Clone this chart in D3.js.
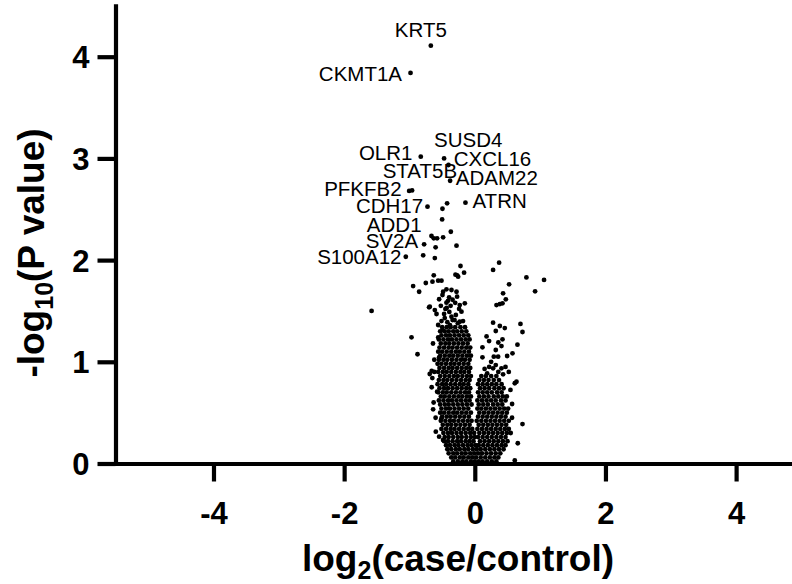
<!DOCTYPE html>
<html>
<head>
<meta charset="utf-8">
<script src="https://cdn.jsdelivr.net/npm/d3@7"></script>
<style>
  html, body { margin: 0; padding: 0; background: #fff; }
  svg { display: block; font-family: "Liberation Sans", Arial, Helvetica, sans-serif; }
</style>
</head>
<body>
<svg id="chart" width="792" height="584"></svg>
<script>
// Axis ticks
const xTicks = [-4, -2, 0, 2, 4];
const yTicks = [0, 1, 2, 3, 4];

// Named proteins: [gene, log2(case/control), -log10(P)]
const labelled = [
  ["KRT5",    -0.673, 4.108],
  ["CKMT1A",  -0.984, 3.840],
  ["OLR1",    -0.827, 3.017],
  ["SUSD4",   -0.470, 3.000],
  ["CXCL16",  -0.403, 2.935],
  ["STAT5B",  -0.960, 2.685],
  ["ADAM22",  -0.378, 2.780],
  ["PFKFB2",  -1.005, 2.680],
  ["CDH17",   -0.724, 2.525],
  ["ATRN",    -0.143, 2.565],
  ["ADD1",    -0.500, 2.400],
  ["SV2A",    -0.776, 2.155],
  ["S100A12", -1.056, 2.033]
];

// Label placement relative to each named point (px): dx, dy, anchor
const labelOffsets = {
  KRT5:    [-10, -9, "middle"],
  CKMT1A:  [-8.5, 7.7, "end"],
  OLR1:    [-8.3, 3.3, "end"],
  SUSD4:   [-10, -11, "start"],
  CXCL16:  [5.3, 1, "start"],
  STAT5B:  [45, -12.5, "end"],
  ADAM22:  [5.7, 4.3, "start"],
  PFKFB2:  [-7.5, 5.3, "end"],
  CDH17:   [-4.4, 6, "end"],
  ATRN:    [7, 5.6, "start"],
  ADD1:    [-20.6, 12.4, "end"],
  SV2A:    [-6, 4, "end"],
  S100A12: [-4.3, 7.3, "end"]
};

// Scattered proteins outside the dense core: [log2FC, -log10P]
const scattered = [
  [-0.495,2.505],[-0.424,2.558],[-0.663,2.237],[-0.628,2.214],[-0.577,2.214],[-0.485,2.224],[-0.367,2.279],
  [-0.600,2.126],[-0.280,2.142],[-0.790,2.047],[-0.612,2.020],[-0.219,1.942],[0.372,1.975],[0.280,1.903],
  [-0.628,1.850],[-0.296,1.857],[-0.255,1.837],[-0.164,1.876],[0.790,1.830],[1.060,1.805],[0.923,1.693],
  [0.525,1.762],[-1.580,1.500],[-0.944,1.745],[-0.852,1.689],[-0.750,1.775],[-0.648,1.788],[-0.561,1.798],
  [-0.510,1.798],[-0.270,1.850],[0.433,1.673],[0.475,1.614],[0.332,1.558],[0.383,1.568],[0.424,1.575],
  [-0.700,1.536],[-0.612,1.509],[-0.969,1.241],[-0.877,1.074],[-0.638,0.533],[0.730,0.388],[0.658,0.199],
  [0.612,0.030],[0.699,1.372],[0.730,1.293],[0.653,1.168],[0.280,1.385],[0.383,1.352],[0.459,1.332],
  [0.321,1.303],[0.219,1.204],[0.117,1.142],[0.424,1.221],[0.408,1.155],[0.321,1.116],[0.577,1.083],
  [0.495,1.057],[0.291,1.050],[0.357,1.050],[0.117,1.044],[0.321,0.968],[0.408,0.936],[0.280,0.936],
  [0.189,0.887],[0.433,0.877],[0.638,0.804],[0.612,0.789],[0.546,0.723],[0.571,0.585],
  [-0.485,1.689],[-0.495,1.657],[-0.434,1.713],[-0.357,1.706],[-0.280,1.689],[-0.271,1.640],[-0.393,1.634],
  [-0.546,1.615],[-0.434,1.581],[-0.230,1.558],[-0.153,1.575],[-0.689,1.542],[-0.586,1.470],[-0.357,1.443],
  [-0.204,1.493],[-0.561,1.362],[-0.230,1.394],[-0.430,1.530],[-0.340,1.610],[-0.520,1.550],[-0.310,1.410],
  [-0.460,1.430],[-0.490,1.310],[-0.380,1.360],[-0.597,0.313],[-0.510,0.444],[-0.546,0.264],[-0.485,0.231],
  [-0.690,0.880],[-0.650,0.840],[-0.620,0.900],[-0.660,0.910],[-0.560,1.240],[-0.546,1.044],[-0.577,0.706],
  [-0.640,1.180],[-0.620,1.020],[-0.660,0.750],[-0.630,0.600],[-0.600,0.450],[0.550,0.300],[0.570,0.450],
  [0.360,1.190],[0.250,1.000],[0.470,0.950],[0.180,1.250],[0.520,0.900],
  [-0.47,1.47],[-0.39,1.49],[-0.29,1.46],[-0.51,1.40],[-0.42,1.39],[-0.34,1.41],[-0.26,1.38],[-0.18,1.40],
  [-0.45,1.52],[-0.37,1.55],[-0.24,1.52],[-0.41,1.60],[-0.30,1.58],[0.15,0.93],[0.36,0.90],[0.22,0.95]
];

// Dense core, left arm (down-regulated): rows of [-log10P, log2FC values]
const coreLeft = [
  [1.34, [-0.50,-0.43,-0.37,-0.30,-0.22,-0.15]],
  [1.30, [-0.53,-0.46,-0.40,-0.33,-0.27,-0.20,-0.13]],
  [1.26, [-0.51,-0.44,-0.38,-0.31,-0.24,-0.17,-0.10]],
  [1.22, [-0.55,-0.48,-0.41,-0.35,-0.28,-0.21,-0.14,-0.08]],
  [1.18, [-0.52,-0.45,-0.39,-0.32,-0.25,-0.18,-0.11]],
  [1.14, [-0.54,-0.47,-0.40,-0.34,-0.27,-0.20,-0.13,-0.07]],
  [1.10, [-0.56,-0.50,-0.43,-0.36,-0.29,-0.23,-0.16,-0.09]],
  [1.06, [-0.53,-0.46,-0.39,-0.33,-0.26,-0.19,-0.12,-0.06]],
  [1.02, [-0.55,-0.48,-0.42,-0.35,-0.28,-0.21,-0.15,-0.08]],
  [0.98, [-0.57,-0.51,-0.44,-0.37,-0.31,-0.24,-0.17,-0.10]],
  [0.94, [-0.54,-0.47,-0.40,-0.34,-0.27,-0.20,-0.13,-0.07]],
  [0.90, [-0.56,-0.49,-0.43,-0.36,-0.29,-0.22,-0.16,-0.09]],
  [0.86, [-0.53,-0.46,-0.39,-0.32,-0.26,-0.19,-0.12,-0.06]],
  [0.82, [-0.55,-0.48,-0.42,-0.35,-0.28,-0.21,-0.14,-0.08]],
  [0.78, [-0.57,-0.50,-0.44,-0.37,-0.30,-0.23,-0.17,-0.10]],
  [0.74, [-0.54,-0.47,-0.41,-0.34,-0.27,-0.20,-0.13,-0.07]],
  [0.70, [-0.56,-0.49,-0.43,-0.36,-0.29,-0.22,-0.15,-0.09]],
  [0.66, [-0.52,-0.46,-0.39,-0.32,-0.25,-0.19,-0.12,-0.06]],
  [0.62, [-0.55,-0.48,-0.41,-0.35,-0.28,-0.21,-0.14,-0.08]],
  [0.58, [-0.53,-0.46,-0.40,-0.33,-0.26,-0.19,-0.12,-0.05]],
  [0.54, [-0.51,-0.44,-0.38,-0.31,-0.24,-0.17,-0.10]],
  [0.50, [-0.53,-0.47,-0.40,-0.33,-0.27,-0.20,-0.13,-0.06]],
  [0.46, [-0.50,-0.43,-0.37,-0.30,-0.23,-0.16,-0.09]],
  [0.42, [-0.52,-0.45,-0.38,-0.32,-0.25,-0.18,-0.11,-0.05]],
  [0.38, [-0.49,-0.42,-0.36,-0.29,-0.22,-0.15,-0.08]],
  [0.34, [-0.51,-0.44,-0.37,-0.31,-0.24,-0.17,-0.10,-0.04]],
  [0.30, [-0.48,-0.41,-0.35,-0.28,-0.21,-0.14,-0.07,-0.01]],
  [0.26, [-0.46,-0.40,-0.33,-0.26,-0.20,-0.13,-0.06,0.00]],
  [0.22, [-0.47,-0.41,-0.34,-0.27,-0.21,-0.14,-0.08,-0.02]],
  [0.18, [-0.44,-0.38,-0.31,-0.25,-0.18,-0.11,-0.05,0.01]],
  [0.14, [-0.42,-0.36,-0.29,-0.23,-0.16,-0.10,-0.03,0.03]],
  [0.10, [-0.40,-0.33,-0.27,-0.20,-0.14,-0.07,-0.01,0.05]],
  [0.06, [-0.36,-0.30,-0.23,-0.17,-0.10,-0.04,0.02]],
  [0.02, [-0.33,-0.26,-0.19,-0.13,-0.06,0.00,0.06]]
];

// Dense core, right arm (up-regulated)
const coreRight = [
  [0.86, [0.10,0.17,0.25,0.33]],
  [0.82, [0.07,0.14,0.21,0.29,0.37]],
  [0.78, [0.05,0.12,0.19,0.26,0.33,0.41]],
  [0.74, [0.08,0.15,0.22,0.30,0.37,0.44]],
  [0.70, [0.05,0.12,0.19,0.26,0.34,0.41]],
  [0.66, [0.07,0.14,0.21,0.29,0.36,0.43,0.49]],
  [0.62, [0.04,0.11,0.18,0.25,0.32,0.40,0.47]],
  [0.58, [0.06,0.13,0.20,0.28,0.35,0.42]],
  [0.54, [0.04,0.10,0.17,0.24,0.31,0.38,0.45,0.51]],
  [0.50, [0.07,0.14,0.21,0.28,0.35,0.42,0.49]],
  [0.46, [0.05,0.12,0.19,0.26,0.33,0.40,0.47]],
  [0.42, [0.03,0.10,0.17,0.24,0.31,0.38,0.45,0.52]],
  [0.38, [0.06,0.13,0.20,0.27,0.34,0.41,0.48]],
  [0.34, [0.04,0.11,0.18,0.25,0.32,0.39,0.46,0.52]],
  [0.30, [0.07,0.14,0.21,0.28,0.35,0.42,0.49]],
  [0.26, [0.05,0.12,0.19,0.26,0.33,0.40,0.47]],
  [0.22, [0.08,0.15,0.22,0.29,0.36,0.43,0.50]],
  [0.18, [0.06,0.13,0.20,0.27,0.34,0.41,0.47]],
  [0.14, [0.09,0.16,0.23,0.30,0.37,0.44]],
  [0.10, [0.11,0.18,0.25,0.32,0.39]],
  [0.06, [0.09,0.16,0.23,0.30,0.36]],
  [0.02, [0.12,0.19,0.26,0.33]]
];

// Flatten everything into one point list
const points = [];
for (const [p, xs] of coreLeft.concat(coreRight)) for (const fc of xs) points.push([fc, p]);
for (const d of scattered) points.push(d);
for (const [, fc, p] of labelled) points.push([fc, p]);

const svg = d3.select("#chart");
const x = d3.scaleLinear().domain([-5.5, 5.5]).range([115.5, 834.1]);
const y = d3.scaleLinear().domain([0, 4.5]).range([463.5, 5.85]);

// Points
svg.append("g")
  .selectAll("circle")
  .data(points)
  .join("circle")
  .attr("cx", d => x(d[0]))
  .attr("cy", d => y(d[1]))
  .attr("r", 2.4)
  .attr("fill", "#000");

// Axes
const axisStroke = 4.2;
const xAxis = svg.append("g")
  .attr("transform", `translate(0,${y(0)})`)
  .call(d3.axisBottom(x).tickValues(xTicks).tickSize(18).tickSizeOuter(0).tickPadding(20).tickFormat(d => String(d)));
const yAxis = svg.append("g")
  .attr("transform", `translate(${x(-5.5)},0)`)
  .call(d3.axisLeft(y).tickValues(yTicks).tickSize(18).tickSizeOuter(0).tickPadding(8).tickFormat(d => String(d)));

for (const g of [xAxis, yAxis]) {
  g.select(".domain").attr("stroke", "#000").attr("stroke-width", axisStroke).attr("stroke-linecap", "square");
  g.selectAll(".tick line").attr("stroke", "#000").attr("stroke-width", axisStroke);
  g.selectAll(".tick text")
    .attr("fill", "#000")
    .style("font-family", '"Liberation Sans", Arial, sans-serif')
    .style("font-weight", "bold")
    .style("font-size", "31px");
}
yAxis.selectAll(".tick text").attr("dy", "0.36em");

// Point labels
svg.append("g")
  .selectAll("text")
  .data(labelled)
  .join("text")
  .attr("x", d => x(d[1]) + labelOffsets[d[0]][0])
  .attr("y", d => y(d[2]) + labelOffsets[d[0]][1])
  .attr("text-anchor", d => labelOffsets[d[0]][2])
  .style("font-size", "20.5px")
  .attr("fill", "#000")
  .text(d => d[0]);

// Axis titles
const xTitle = svg.append("text")
  .attr("x", 458)
  .attr("y", 571)
  .attr("text-anchor", "middle")
  .style("font-weight", "bold")
  .style("font-size", "37px");
xTitle.append("tspan").text("log");
xTitle.append("tspan").attr("dy", 8).style("font-size", "25px").text("2");
xTitle.append("tspan").attr("dy", -8).text("(case/control)");

const yTitle = svg.append("text")
  .attr("transform", "translate(44,253) rotate(-90)")
  .attr("text-anchor", "middle")
  .style("font-weight", "bold")
  .style("font-size", "37px");
yTitle.append("tspan").text("-log");
yTitle.append("tspan").attr("dy", 9).style("font-size", "25px").text("10");
yTitle.append("tspan").attr("dy", -9).text("(P value)");
</script>
</body>
</html>
